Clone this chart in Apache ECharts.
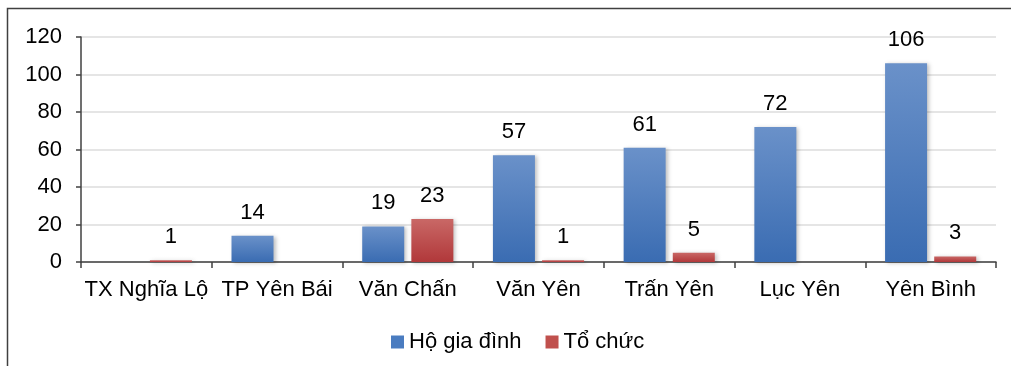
<!DOCTYPE html>
<html>
<head>
<meta charset="utf-8">
<script src="https://cdn.jsdelivr.net/npm/echarts@6/dist/echarts.min.js"></script>
<style>
html,body{margin:0;padding:0;background:#fff;}
#c{width:1011px;height:366px;}
</style>
</head>
<body>
<div id="c"></div>
<script>
const categories = ['TX Nghĩa Lộ', 'TP Yên Bái', 'Văn Chấn', 'Văn Yên', 'Trấn Yên', 'Lục Yên', 'Yên Bình'];
const hoGiaDinh = [null, 14, 19, 57, 61, 72, 106];
const toChuc = [1, null, 23, 1, 5, null, 3];
const seriesNames = ['Hộ gia đình', 'Tổ chức'];

const FONT = '"Liberation Sans", Arial, sans-serif';
const FS = 22;
const chart = echarts.init(document.getElementById('c'), null, {renderer: 'canvas'});

function grad(top, bottom) {
  return new echarts.graphic.LinearGradient(0, 0, 0, 1, [
    {offset: 0, color: top}, {offset: 1, color: bottom}
  ]);
}

chart.setOption({
  animation: false,
  backgroundColor: '#fff',
  textStyle: {fontFamily: FONT},
  graphic: [{
    type: 'rect',
    shape: {x: 7.5, y: 8.5, width: 1100, height: 400},
    style: {fill: 'none', stroke: '#404040', lineWidth: 1.5},
    silent: true
  }],
  grid: {left: 81, right: 15, top: 37, bottom: 104, containLabel: false},
  legend: {
    top: 326,
    left: 386,
    itemWidth: 13,
    itemHeight: 13,
    itemGap: 24,
    icon: 'rect',
    textStyle: {fontSize: FS, color: '#000', fontFamily: FONT},
    data: [
      {name: seriesNames[0], itemStyle: {color: '#4a7cc0'}},
      {name: seriesNames[1], itemStyle: {color: '#c0504d'}}
    ]
  },
  xAxis: {
    type: 'category',
    data: categories,
    axisLine: {lineStyle: {color: '#404040', width: 1.5}},
    axisTick: {show: true, length: 6, lineStyle: {color: '#404040', width: 1.5}},
    axisLabel: {fontSize: FS, color: '#000', margin: 17, fontFamily: FONT, interval: 0}
  },
  yAxis: {
    type: 'value',
    min: 0, max: 120, interval: 20,
    axisLine: {show: true, lineStyle: {color: '#404040', width: 1.5}},
    axisTick: {show: true, length: 5, lineStyle: {color: '#404040', width: 1.5}},
    splitLine: {lineStyle: {color: '#dcdcdc', width: 1.5}},
    axisLabel: {fontSize: FS, color: '#000', margin: 19, fontFamily: FONT}
  },
  series: [
    {
      name: seriesNames[0],
      type: 'bar',
      data: hoGiaDinh,
      barWidth: 42,
      barGap: '17%',
      itemStyle: {
        color: grad('#6a91c9', '#3a6cb2'),
        shadowColor: 'rgba(0,0,0,0.25)', shadowBlur: 4, shadowOffsetX: 2, shadowOffsetY: 1
      },
      label: {show: true, position: 'top', distance: 12, fontSize: FS, color: '#000', fontFamily: FONT}
    },
    {
      name: seriesNames[1],
      type: 'bar',
      data: toChuc,
      barWidth: 42,
      barGap: '17%',
      itemStyle: {
        color: grad('#c96866', '#b1383a'),
        shadowColor: 'rgba(0,0,0,0.25)', shadowBlur: 4, shadowOffsetX: 2, shadowOffsetY: 1
      },
      label: {show: true, position: 'top', distance: 12, fontSize: FS, color: '#000', fontFamily: FONT}
    }
  ]
});
</script>
</body>
</html>
